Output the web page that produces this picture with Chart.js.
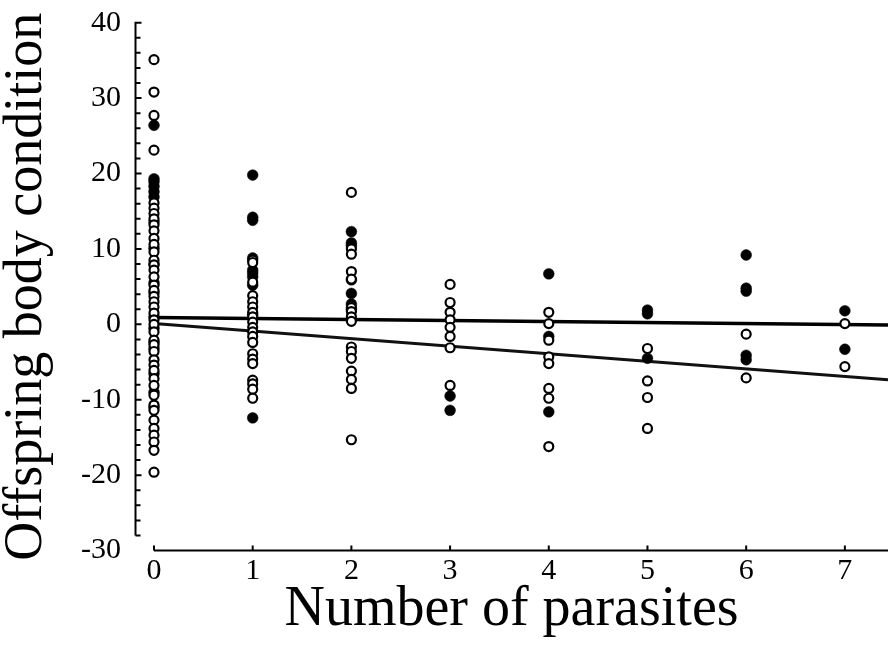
<!DOCTYPE html>
<html>
<head>
<meta charset="utf-8">
<script src="https://cdn.jsdelivr.net/npm/chart.js@4/dist/chart.umd.min.js"></script>
<style>
  html, body { margin: 0; padding: 0; background: #fff; }
</style>
</head>
<body>
<canvas id="grafico" width="888" height="652"></canvas>
<script>
// numero de parasitas (eixo x)
const parasites = [0, 1, 2, 3, 4, 5, 6, 7]
const xTicks = [0, 1, 2, 3, 4, 5, 6, 7]
const yTicks = [-30, -20, -10, 0, 10, 20, 30, 40]

// circulos abertos, uma lista por numero de parasitas
const openCond = [
  [35.1, 30.8, 27.7, 23.1, 16.1, 15.4, 14.7, 14.0, 13.2, 12.4, 11.4, 10.6, 9.6, 8.5, 7.9, 7.2, 6.3, 5.2, 4.5, 3.7, 3.0, 2.3, 1.5, 0.6, 0.0,
   -1.0, -2.1, -2.7, -3.6, -4.7, -5.4, -6.1, -7.2, -8.1, -9.4, -10.7, -11.4, -12.7, -13.8, -14.7, -15.6, -16.7, -19.6],
  [8.5, 8.2, 5.6, 3.8, 3.0, 2.3, 1.6, 1.0, 0.3, -0.4, -1.0, -1.6, -2.4, -3.9, -4.6, -5.2, -7.4, -7.9, -8.6, -9.8],
  [17.5, 10.0, 9.3, 7.0, 6.0, 2.2, 1.7, 1.0, 0.4, -3.0, -3.6, -4.5, -6.2, -7.3, -8.5, -15.3],
  [5.3, 2.9, 1.6, 0.6, -0.4, -1.6, -3.1, -8.1],
  [1.6, 0.1, -2.1, -4.3, -5.2, -8.5, -9.8, -16.2],
  [-3.2, -7.5, -9.7, -13.8],
  [-1.3, -7.1],
  [0.1, -5.6]
]

// circulos cheios
const filledCond = [
  [26.4, 19.3, 18.9, 18.3, 17.6, 16.9, 13.6, 10.1, 8.0, 5.5, 4.2, 1.0, -0.5, -2.4, -3.2, -6.5, -9.0, -11.0],
  [19.8, 14.2, 13.8, 8.8, 7.2, 6.8, 6.3, 5.2, 1.3, -12.4],
  [12.3, 10.8, 10.4, 5.9, 4.1, 2.7, 2.0],
  [-9.5, -11.4],
  [6.7, -1.6, -11.6],
  [1.9, 1.4, -4.5],
  [9.2, 4.8, 4.4, -4.1, -4.7],
  [1.8, -3.3]
]

// retas de regressao
const fitX = [0, 7.437]
const fitFlat = [0.9, -0.1]
const fitSteep = [0.1, -7.35]

const xMin = -0.1925
const xMax = 7.437

const toPoints = lists => {
  let pts = []
  lists.forEach((vals, i) => {
    vals.forEach(v => pts.push({ x: parasites[i], y: v }))
  })
  return pts
}

// eixos desenhados a mao (linha do y separada, ticks para dentro)
const eixos = {
  id: 'eixos',
  beforeDatasetsDraw(chart) {
    const { ctx, chartArea } = chart
    const x = chart.scales.x
    const y = chart.scales.y
    ctx.save()
    ctx.strokeStyle = '#000'
    ctx.lineWidth = 2
    const left = chartArea.left + 0.5

    ctx.beginPath()
    ctx.moveTo(left, y.getPixelForValue(40))
    ctx.lineTo(left, y.getPixelForValue(-28))
    for (let v = 40; v >= -28; v -= 2) {
      const py = y.getPixelForValue(v)
      const major = v % 10 === 0
      ctx.moveTo(major ? left - 1 : left, py)
      ctx.lineTo(left + (major ? 6 : 5), py)
    }
    ctx.stroke()

    const base = y.getPixelForValue(-30)
    ctx.beginPath()
    ctx.moveTo(x.getPixelForValue(0), base)
    ctx.lineTo(chartArea.right, base)
    xTicks.forEach(v => {
      const px = x.getPixelForValue(v)
      ctx.moveTo(px, base)
      ctx.lineTo(px, base - 5)
    })
    ctx.stroke()
    ctx.restore()
  }
}

Chart.defaults.font.family = "'Liberation Serif', 'Times New Roman', serif"
Chart.defaults.color = '#000'

const ctx = document.getElementById('grafico')

const data = {
  datasets: [
    {
      data: toPoints(openCond),
      pointRadius: 4.5,
      pointBorderWidth: 2.2,
      pointBackgroundColor: '#fff',
      pointBorderColor: '#000'
    },
    {
      data: toPoints(filledCond),
      pointRadius: 5.4,
      pointBorderWidth: 0.5,
      pointBackgroundColor: '#000',
      pointBorderColor: '#000'
    },
    {
      data: fitX.map((v, i) => ({ x: v, y: fitFlat[i] })),
      showLine: true,
      borderColor: '#000',
      borderWidth: 3.5,
      pointRadius: 0
    },
    {
      data: fitX.map((v, i) => ({ x: v, y: fitSteep[i] })),
      showLine: true,
      borderColor: '#111',
      borderWidth: 3,
      pointRadius: 0
    }
  ]
}

const config = {
  type: 'scatter',
  data,
  options: {
    responsive: false,
    animation: false,
    layout: { autoPadding: false, padding: { top: 22.7, left: 0, right: 0, bottom: 0 } },
    plugins: {
      legend: { display: false },
      tooltip: { enabled: false }
    },
    scales: {
      x: {
        type: 'linear',
        min: xMin,
        max: xMax,
        afterBuildTicks: s => { s.ticks = xTicks.map(v => ({ value: v })) },
        afterFit: s => { s.height = 101.4; s.paddingLeft = 0; s.paddingRight = 0 },
        grid: { display: false, drawTicks: false },
        border: { display: false },
        ticks: { padding: 3, font: { size: 30 }, color: '#000', callback: v => String(v) },
        title: {
          display: true,
          text: 'Number of parasites',
          font: { size: 56, lineHeight: 1.2 },
          padding: { top: 0, bottom: 8 },
          color: '#000'
        }
      },
      y: {
        type: 'linear',
        min: -30,
        max: 40,
        afterBuildTicks: s => { s.ticks = yTicks.map(v => ({ value: v })) },
        afterFit: s => { s.width = 135; s.paddingTop = 0; s.paddingBottom = 0 },
        grid: { display: false, drawTicks: false },
        border: { display: false },
        ticks: { padding: 14, font: { size: 30 }, color: '#000', callback: v => String(v) },
        title: {
          display: true,
          text: 'Offspring body condition',
          font: { size: 54, lineHeight: 1 },
          padding: 0,
          color: '#000'
        }
      }
    }
  },
  plugins: [eixos]
}

const graph = new Chart(ctx, config)
</script>
</body>
</html>
